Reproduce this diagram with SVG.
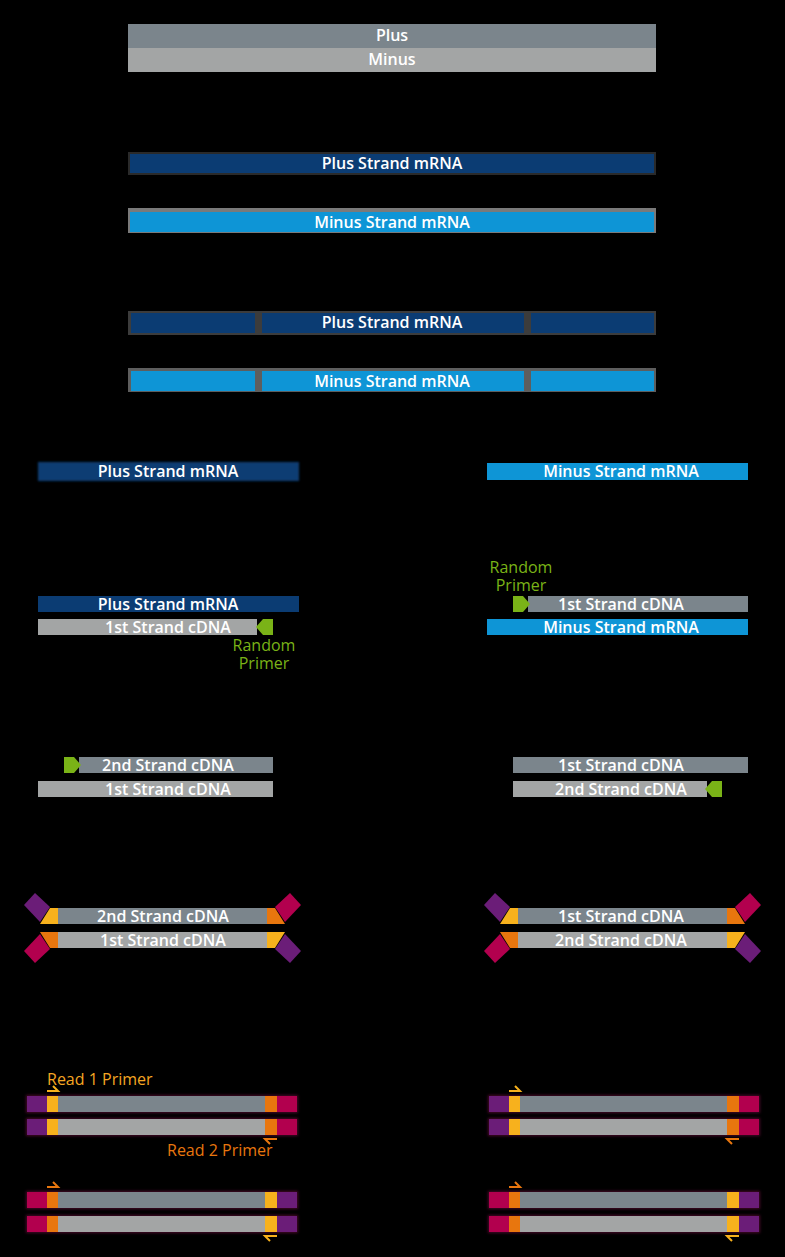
<svg xmlns="http://www.w3.org/2000/svg" width="785" height="1257" viewBox="0 0 785 1257">
<defs>
<style>
text{font-family:"Open Sans","Liberation Sans",sans-serif;font-size:16px;fill:#ffffff;text-anchor:middle;font-weight:600}
.slate{fill:#7b858c}
.lgrey{fill:#a3a5a5}
.dblue{fill:#0b3c73}
.lblue{fill:#0e95d6}
.green{fill:#7ab317}
.yel{fill:#f7b11d}
.org{fill:#e8760e}
.pur{fill:#6b1d78}
.crim{fill:#b2004e}
.gtxt{fill:#7ab317;font-weight:500}
.ytxt{fill:#f5a623;text-anchor:start;font-weight:500}
.otxt{fill:#e8760e;text-anchor:start;font-weight:500}
.arr{fill:none;stroke-width:2}
.halo{fill:#a0155a;opacity:0.45}
</style>
<filter id="soft" x="-5%" y="-50%" width="110%" height="200%"><feGaussianBlur stdDeviation="1.2"/></filter>
<filter id="glow" x="-5%" y="-50%" width="110%" height="200%"><feGaussianBlur stdDeviation="1.5"/></filter>
</defs>
<rect x="0" y="0" width="785" height="1257" fill="#000000"/>

<!-- Section 1 -->
<g id="genome">
<rect x="128" y="24" width="528" height="24" class="slate"/>
<rect x="128" y="48" width="528" height="24" class="lgrey"/>
<text x="392" y="41">Plus</text>
<text x="392" y="65">Minus</text>
</g>

<!-- Section 2 -->
<g id="mrna-full">
<rect x="128" y="152" width="528" height="23" fill="#2a2a2a"/>
<rect x="130" y="154" width="524" height="19" class="dblue"/>
<text x="392" y="169">Plus Strand mRNA</text>
<rect x="128" y="208" width="528" height="25" fill="#7a7a7a"/>
<rect x="130" y="212" width="524" height="20" class="lblue"/>
<text x="392" y="228">Minus Strand mRNA</text>
</g>

<!-- Section 3 -->
<g id="mrna-fragmented">
<rect x="128" y="311" width="528" height="24" fill="#3c3c3c"/>
<rect x="131" y="313" width="124" height="20" class="dblue"/>
<rect x="262" y="313" width="262" height="20" class="dblue"/>
<rect x="531" y="313" width="123" height="20" class="dblue"/>
<text x="392" y="328">Plus Strand mRNA</text>
<rect x="128" y="368" width="528" height="24" fill="#5e5e5e"/>
<rect x="131" y="371" width="124" height="20" class="lblue"/>
<rect x="262" y="371" width="262" height="20" class="lblue"/>
<rect x="531" y="371" width="123" height="20" class="lblue"/>
<text x="392" y="387">Minus Strand mRNA</text>
</g>

<!-- Section 4 -->
<g id="plus-mrna">
<rect x="38" y="462" width="261" height="19" class="dblue" filter="url(#soft)"/>
<text x="168" y="477">Plus Strand mRNA</text>
</g>
<g id="minus-mrna">
<rect x="487" y="463" width="261" height="17" class="lblue"/>
<text x="621" y="477">Minus Strand mRNA</text>
</g>

<!-- Section 5 -->
<g id="first-strand-left">
<rect x="38" y="596" width="261" height="16" class="dblue"/>
<text x="168" y="610">Plus Strand mRNA</text>
<rect x="38" y="619" width="219" height="16" class="lgrey"/>
<polygon points="273,619 263,619 256,627 263,635 273,635" class="green"/>
<text x="168" y="633">1st Strand cDNA</text>
<text x="264" y="651" class="gtxt">Random<tspan x="264" dy="18">Primer</tspan></text>
</g>
<g id="first-strand-right">
<text x="521" y="573" class="gtxt">Random<tspan x="521" dy="18">Primer</tspan></text>
<rect x="528" y="596" width="220" height="16" class="slate"/>
<polygon points="513,596 523,596 530,604 523,612 513,612" class="green"/>
<text x="621" y="610">1st Strand cDNA</text>
<rect x="487" y="619" width="261" height="16" class="lblue"/>
<text x="621" y="633">Minus Strand mRNA</text>
</g>

<!-- Section 6 -->
<g id="second-strand-left">
<rect x="79" y="757" width="194" height="16" class="slate"/>
<polygon points="64,757 74,757 81,765 74,773 64,773" class="green"/>
<text x="168" y="771">2nd Strand cDNA</text>
<rect x="38" y="781" width="235" height="16" class="lgrey"/>
<text x="168" y="795">1st Strand cDNA</text>
</g>
<g id="second-strand-right">
<rect x="513" y="757" width="235" height="16" class="slate"/>
<text x="621" y="771">1st Strand cDNA</text>
<rect x="513" y="781" width="194" height="16" class="lgrey"/>
<polygon points="722,781 712,781 705,789 712,797 722,797" class="green"/>
<text x="621" y="795">2nd Strand cDNA</text>
</g>

<!-- Section 7 -->
<g id="adapters-left">
<rect x="58" y="908" width="209" height="16" class="slate"/>
<polygon points="58,908 50,908 40,924 58,924" class="yel"/>
<polygon points="50,907 40,922 24,905 35,893" class="pur"/>
<polygon points="267,908 275,908 285,924 267,924" class="org"/>
<polygon points="275,907 285,922 301,905 290,893" class="crim"/>
<text x="163" y="922">2nd Strand cDNA</text>
<rect x="58" y="932" width="209" height="16" class="lgrey"/>
<polygon points="58,932 40,932 50,948 58,948" class="org"/>
<polygon points="50,949 40,934 24,951 35,963" class="crim"/>
<polygon points="267,932 285,932 275,948 267,948" class="yel"/>
<polygon points="275,949 285,934 301,951 290,963" class="pur"/>
<text x="163" y="946">1st Strand cDNA</text>
</g>
<g id="adapters-right">
<rect x="518" y="908" width="209" height="16" class="slate"/>
<polygon points="518,908 510,908 500,924 518,924" class="yel"/>
<polygon points="510,907 500,922 484,905 495,893" class="pur"/>
<polygon points="727,908 735,908 745,924 727,924" class="org"/>
<polygon points="735,907 745,922 761,905 750,893" class="crim"/>
<text x="621" y="922">1st Strand cDNA</text>
<rect x="518" y="932" width="209" height="16" class="lgrey"/>
<polygon points="518,932 500,932 510,948 518,948" class="org"/>
<polygon points="510,949 500,934 484,951 495,963" class="crim"/>
<polygon points="727,932 745,932 735,948 727,948" class="yel"/>
<polygon points="735,949 745,934 761,951 750,963" class="pur"/>
<text x="621" y="946">2nd Strand cDNA</text>
</g>

<!-- Section 8 -->
<g id="reads-left-a">
<rect x="26" y="1095" width="272" height="18" class="halo" filter="url(#glow)"/>
<rect x="26" y="1118" width="272" height="18" class="halo" filter="url(#glow)"/>
<rect x="27" y="1096" width="20" height="16" class="pur"/>
<rect x="47" y="1096" width="11" height="16" class="yel"/>
<rect x="58" y="1096" width="207" height="16" class="slate"/>
<rect x="265" y="1096" width="12" height="16" class="org"/>
<rect x="277" y="1096" width="20" height="16" class="crim"/>
<rect x="27" y="1119" width="20" height="16" class="pur"/>
<rect x="47" y="1119" width="11" height="16" class="yel"/>
<rect x="58" y="1119" width="207" height="16" class="lgrey"/>
<rect x="265" y="1119" width="12" height="16" class="org"/>
<rect x="277" y="1119" width="20" height="16" class="crim"/>
<text x="47" y="1085" class="ytxt">Read 1 Primer</text>
<text x="167" y="1156" class="otxt">Read 2 Primer</text>
</g>
<g id="reads-right-a">
<rect x="488" y="1095" width="272" height="18" class="halo" filter="url(#glow)"/>
<rect x="488" y="1118" width="272" height="18" class="halo" filter="url(#glow)"/>
<rect x="489" y="1096" width="20" height="16" class="pur"/>
<rect x="509" y="1096" width="11" height="16" class="yel"/>
<rect x="520" y="1096" width="207" height="16" class="slate"/>
<rect x="727" y="1096" width="12" height="16" class="org"/>
<rect x="739" y="1096" width="20" height="16" class="crim"/>
<rect x="489" y="1119" width="20" height="16" class="pur"/>
<rect x="509" y="1119" width="11" height="16" class="yel"/>
<rect x="520" y="1119" width="207" height="16" class="lgrey"/>
<rect x="727" y="1119" width="12" height="16" class="org"/>
<rect x="739" y="1119" width="20" height="16" class="crim"/>
</g>
<g id="reads-left-b">
<rect x="26" y="1191" width="272" height="18" class="halo" filter="url(#glow)"/>
<rect x="26" y="1215" width="272" height="18" class="halo" filter="url(#glow)"/>
<rect x="27" y="1192" width="20" height="16" class="crim"/>
<rect x="47" y="1192" width="11" height="16" class="org"/>
<rect x="58" y="1192" width="207" height="16" class="slate"/>
<rect x="265" y="1192" width="12" height="16" class="yel"/>
<rect x="277" y="1192" width="20" height="16" class="pur"/>
<rect x="27" y="1216" width="20" height="16" class="crim"/>
<rect x="47" y="1216" width="11" height="16" class="org"/>
<rect x="58" y="1216" width="207" height="16" class="lgrey"/>
<rect x="265" y="1216" width="12" height="16" class="yel"/>
<rect x="277" y="1216" width="20" height="16" class="pur"/>
</g>
<g id="reads-right-b">
<rect x="488" y="1191" width="272" height="18" class="halo" filter="url(#glow)"/>
<rect x="488" y="1215" width="272" height="18" class="halo" filter="url(#glow)"/>
<rect x="489" y="1192" width="20" height="16" class="crim"/>
<rect x="509" y="1192" width="11" height="16" class="org"/>
<rect x="520" y="1192" width="207" height="16" class="slate"/>
<rect x="727" y="1192" width="12" height="16" class="yel"/>
<rect x="739" y="1192" width="20" height="16" class="pur"/>
<rect x="489" y="1216" width="20" height="16" class="crim"/>
<rect x="509" y="1216" width="11" height="16" class="org"/>
<rect x="520" y="1216" width="207" height="16" class="lgrey"/>
<rect x="727" y="1216" width="12" height="16" class="yel"/>
<rect x="739" y="1216" width="20" height="16" class="pur"/>
</g>

<g id="connectors">
<polyline points="47,1091 58,1091 53,1086" class="arr" stroke="#f7b11d"/>
<polyline points="277,1139 265,1139 270,1144" class="arr" stroke="#e8760e"/>
<polyline points="509,1091 520,1091 515,1086" class="arr" stroke="#f7b11d"/>
<polyline points="739,1139 727,1139 732,1144" class="arr" stroke="#e8760e"/>
<polyline points="47,1187 58,1187 53,1182" class="arr" stroke="#e8760e"/>
<polyline points="277,1236 265,1236 270,1241" class="arr" stroke="#f7b11d"/>
<polyline points="509,1187 520,1187 515,1182" class="arr" stroke="#e8760e"/>
<polyline points="739,1236 727,1236 732,1241" class="arr" stroke="#f7b11d"/>
</g>
</svg>
